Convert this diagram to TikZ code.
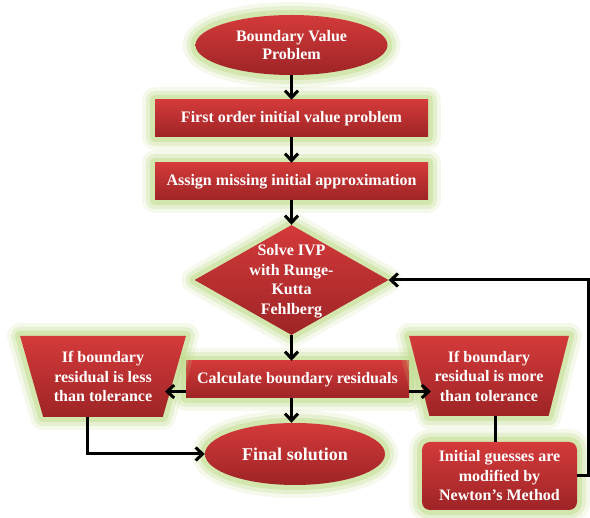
\documentclass[tikz,border=0pt]{standalone}
\usepackage{fontspec}
\setmainfont{Liberation Serif}
\usetikzlibrary{shapes.geometric,arrows.meta,calc}
\definecolor{redtop}{RGB}{212,58,58}
\definecolor{redbot}{RGB}{158,36,38}
\definecolor{glow}{RGB}{190,218,135}
\tikzset{
  glowing/.style={
    preaction={draw=glow,line width=26pt,draw opacity=0.16,fill opacity=0,line join=round},
    preaction={draw=glow,line width=18pt,draw opacity=0.28,fill opacity=0,line join=round},
    preaction={draw=glow,line width=10pt,draw opacity=0.45,fill opacity=0,line join=round}},
  box/.style={glowing, top color=redtop, bottom color=redbot, draw=none, inner sep=0pt,
    text=white, font=\fontsize{16}{19.5}\selectfont\bfseries, align=center},
  txt/.style={inner sep=0pt, text=white, font=\fontsize{16}{19.5}\selectfont\bfseries, align=center},
  conn/.style={line width=3pt, black, -{Straight Barb[length=7pt,width=13pt]}},
  plain/.style={line width=3pt, black},
}
\begin{document}
\begin{tikzpicture}[x=1pt,y=-1pt]
\fill[white] (0,0) rectangle (590,518);
\useasboundingbox (0,0) rectangle (590,518);

\node[box, ellipse, minimum width=192pt, minimum height=60pt] (bvp) at (291.5,45) {Boundary Value\\[-1.5pt]Problem};
\node[box, minimum width=273pt, minimum height=37pt] (r1) at (291.5,118.5) {First order initial value problem};
\node[box, minimum width=273pt, minimum height=37pt] (r2) at (291.5,181.5) {Assign missing initial approximation};
\node[box, diamond, minimum width=194pt, minimum height=110pt] (ivp) at (291.5,280) {};
\node[txt] (ivpt) at (291.5,281) {Solve IVP\\with Runge-\\Kutta\\Fehlberg};
\node[box, minimum width=223pt, minimum height=37pt] (calc) at (297.5,379.5) {Calculate boundary residuals};
\node[box, trapezium, trapezium stretches=true, shape border rotate=180, trapezium angle=69.4,
  minimum width=166pt, minimum height=81pt] (lt) at (103,376.5) {If boundary\\residual is less\\than tolerance};
\node[box, trapezium, trapezium stretches=true, shape border rotate=180, trapezium angle=69.8,
  minimum width=160pt, minimum height=80pt] (rt) at (489,376) {If boundary\\residual is more\\than tolerance};
\node[box, ellipse, minimum width=180pt, minimum height=62pt, font=\fontsize{18}{21}\selectfont\bfseries] (fin) at (295,454) {Final solution};
\node[box, rounded corners=8pt, minimum width=155pt, minimum height=68pt] (nm) at (499.5,476) {Initial guesses are\\modified by\\Newton’s Method};

\coordinate (ltin) at (165,391.5);
\coordinate (rtin) at (431,391.5);

\draw[conn] (bvp) -- (r1);
\draw[conn] (r1) -- (r2);
\draw[conn] (r2) -- (ivp);
\draw[conn] (ivp.south) -- (ivp.south |- calc.north);
\draw[conn] (calc.west |- ltin) -- (ltin);
\draw[conn] (calc.east |- rtin) -- (rtin);
\draw[conn] (calc.south -| ivp) -- (ivp |- fin.north);
\draw[conn] ([xshift=-16pt]lt.south) |- (fin.west);
\draw[plain] ([xshift=6pt]rt.south) -- ([xshift=6pt]rt.south |- nm.north);
\draw[conn] (nm.east) -- ++(11,0) |- (ivp.east);
\end{tikzpicture}
\end{document}
